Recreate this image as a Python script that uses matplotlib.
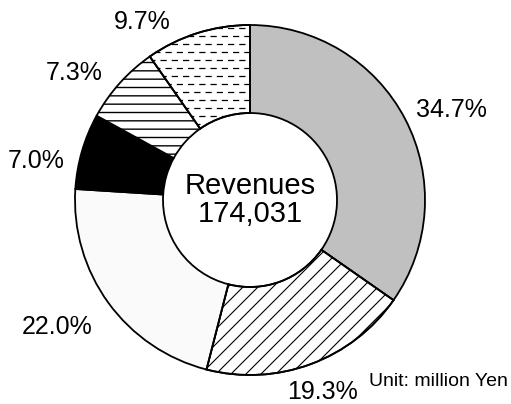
import matplotlib.pyplot as plt
import numpy as np
from matplotlib.lines import Line2D
from matplotlib.patches import Wedge

plt.rcParams['font.family'] = ['Liberation Sans', 'DejaVu Sans']
plt.rcParams['hatch.linewidth'] = 1.0

# segment shares (%), clockwise from 12 o'clock
shares = [34.7, 19.3, 22.0, 7.0, 7.3, 9.7]
labels = ['34.7%', '19.3%', '22.0%', '7.0%', '7.3%', '9.7%']
total_label = 'Revenues\n174,031'
unit_label = 'Unit: million Yen'

colors = ['#c0c0c0', 'white', '#fafafa', 'black', 'white', 'white']
hatches = [None, None, None, None, '--', None]
# label placement: radius factor and angle nudge (deg)
lab_dist = [1.263, 1.172, 1.320, 1.243, 1.240, 1.190]
lab_nudge = [-3.5, 0.3, -2.7, 5.9, 6.1, 13.7]

W, H = 511, 404
cx, cy, R, ring = 250, 204, 175, 88

fig = plt.figure(figsize=(W / 100, H / 100), dpi=100)
ax = fig.add_axes([0, 0, 1, 1])

wedges, _ = ax.pie(shares, colors=colors, startangle=90, counterclock=False,
                   center=(cx, cy), radius=R, frame=True,
                   wedgeprops=dict(width=ring, edgecolor='black', linewidth=1.3))
for w, h in zip(wedges, hatches):
    if h:
        w.set_hatch(h)
ax.set_xlim(0, W)
ax.set_ylim(0, H)
ax.set_aspect('equal')
ax.axis('off')

# diagonal lines for the second segment
diag_w = wedges[1]
for x0 in np.arange(cx - 2 * R, cx + 2 * R, 15):
    ln = Line2D([x0, x0 + 2 * R], [cy - R, cy + R], color='black', lw=0.8,
                zorder=2)
    ax.add_line(ln)
    ln.set_clip_path(diag_w)

# dashed horizontal pattern for the last segment
dash_w = wedges[5]
for i, yy in enumerate(np.arange(cy + 4, cy + R + 8, 8)):
    ln = Line2D([cx - R, cx + R], [yy, yy], color='black', lw=0.9,
                linestyle=(4 * (i % 2), (5, 4)), zorder=2)
    ax.add_line(ln)
    ln.set_clip_path(dash_w)

# redraw outlines over the line patterns
for w in (diag_w, dash_w):
    ax.add_patch(Wedge((cx, cy), R, w.theta1, w.theta2, width=ring,
                       fill=False, edgecolor='black', lw=1.3, zorder=3))

for w, lab, d, nd in zip(wedges, labels, lab_dist, lab_nudge):
    ang = np.deg2rad((w.theta1 + w.theta2) / 2 + nd)
    ax.text(cx + R * d * np.cos(ang), cy + R * d * np.sin(ang), lab,
            ha='center', va='center', fontsize=18)

ax.text(cx, cy, total_label, ha='center', va='center', fontsize=21,
        linespacing=1.0)
ax.text(W - 3, H - 381, unit_label, ha='right', va='center', fontsize=14)

fig.savefig('out.png', dpi=100)
